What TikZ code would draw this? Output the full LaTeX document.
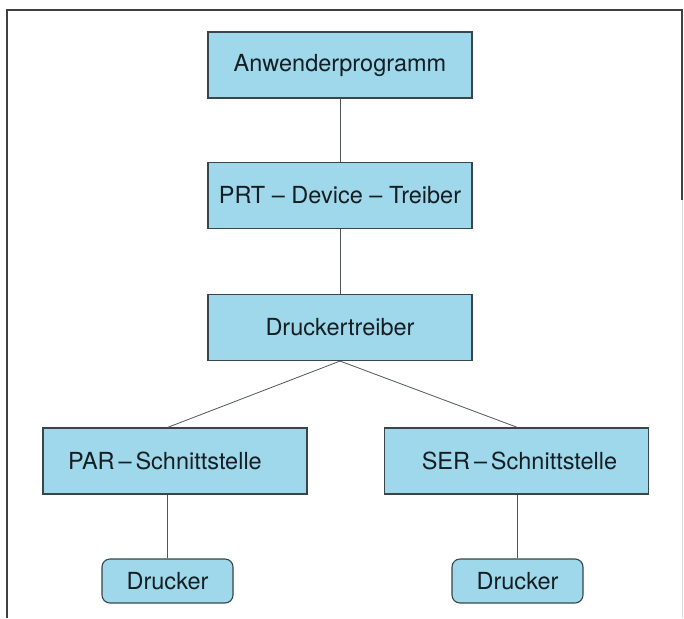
\documentclass[tikz,border=0pt]{standalone}
\usepackage{fontspec}
\setmainfont{TeX Gyre Heros}
\definecolor{boxfill}{RGB}{158,216,234}
\definecolor{boxline}{RGB}{55,70,75}
\definecolor{linecol}{RGB}{80,85,88}
\definecolor{txt}{RGB}{20,30,35}
\begin{document}
\begin{tikzpicture}[x=1pt,y=-1pt,
  box/.style={draw=boxline,line width=1.1pt,fill=boxfill,inner sep=0pt,text=txt,
    minimum width=264pt,minimum height=66pt,font=\fontsize{23.5}{27}\selectfont},
  lbl/.style={text=txt,font=\fontsize{23.5}{27}\selectfont},
  sbox/.style={box,minimum width=131pt,minimum height=44pt,rounded corners=8pt},
  conn/.style={draw=linecol,line width=0.8pt}]
\useasboundingbox (0,0) rectangle (684,618);
\fill[white] (0,0) rectangle (684,618);
% frame
\draw[line width=1.6pt,color=black!75] (7,618) -- (7,10) -- (682,10) -- (682,200);
\draw[line width=0.8pt,color=black!15] (682,200) -- (682,618);
% boxes
\node[box] (anw) at (340,65) {Anwenderprogramm};
\node[box] (prt) at (340,195.5) {PRT -- Device -- Treiber};
\node[box] (dt)  at (340,327.5) {Druckertreiber};
\node[box,label={[lbl,xshift=-10pt]center:PAR\,--\,Schnittstelle}] (par) at (175,461) {};
\node[box,label={[lbl,xshift=3pt]center:SER\,--\,Schnittstelle}] (ser) at (516.5,461) {};
\node[sbox] (drl) at (167.5,581) {Drucker};
\node[sbox] (drr) at (517.5,581) {Drucker};
% connectors
\draw[conn] (anw) -- (prt);
\draw[conn] (prt) -- (dt);
\draw[conn] (dt.south) -- (par.north -| drl.north);
\draw[conn] (dt.south) -- (ser.north -| drr.north);
\draw[conn] (par.south -| drl.north) -- (drl.north);
\draw[conn] (ser.south -| drr.north) -- (drr.north);
\end{tikzpicture}
\end{document}
